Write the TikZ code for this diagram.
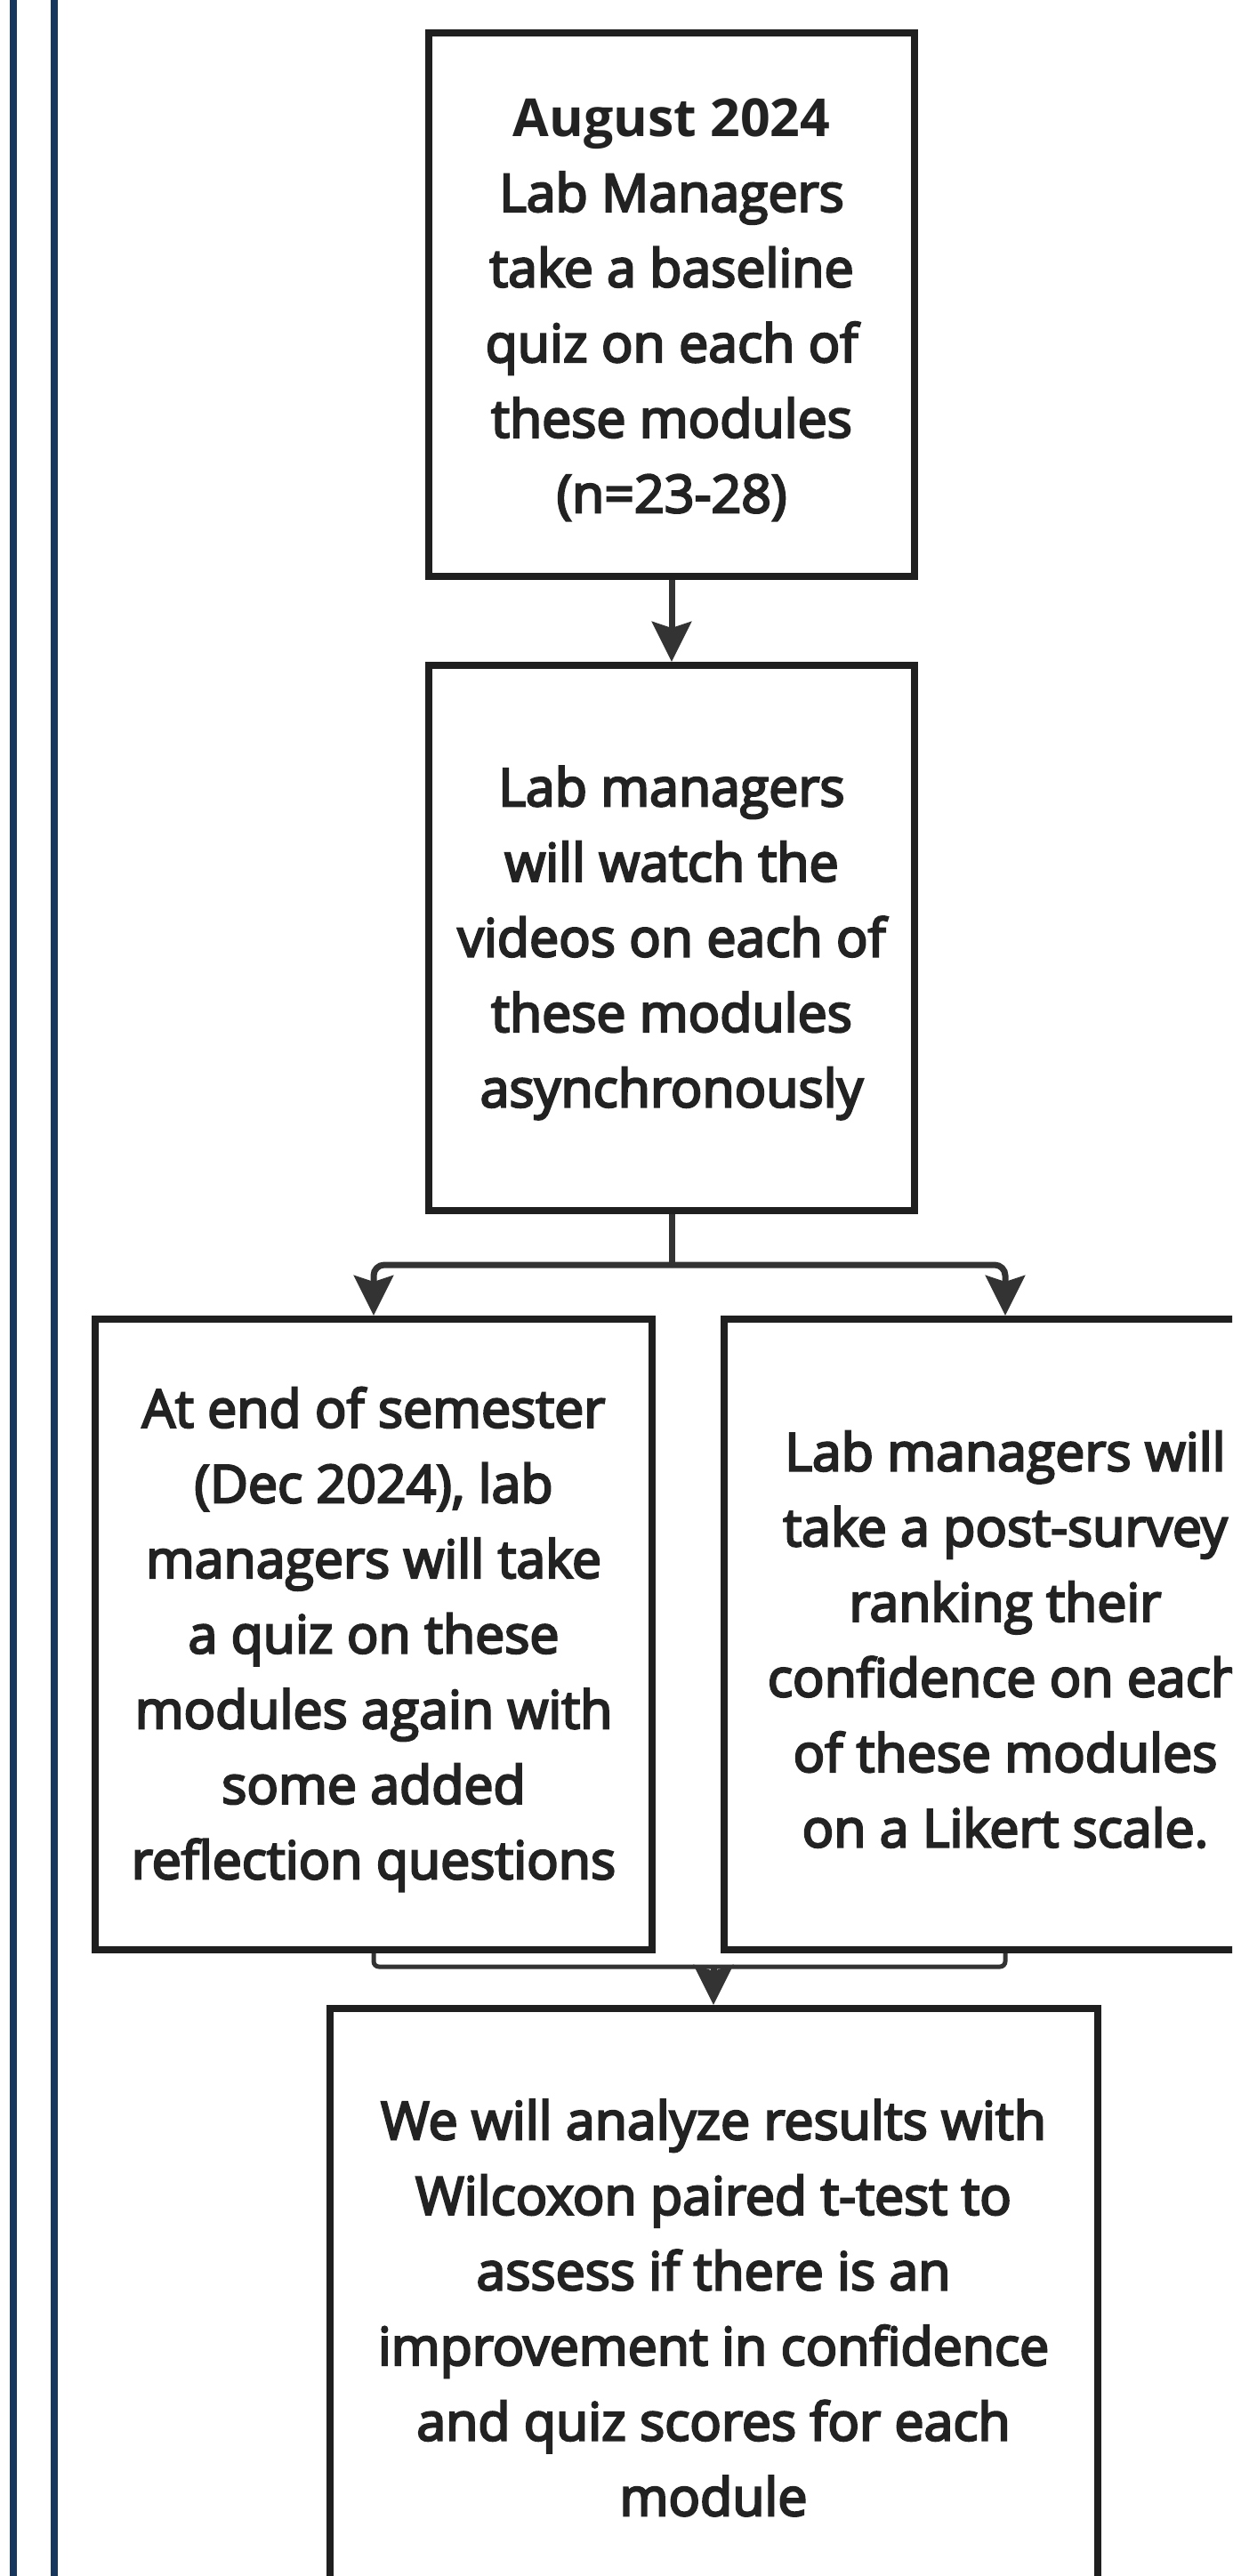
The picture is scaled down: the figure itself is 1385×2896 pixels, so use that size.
\documentclass[tikz,border=0pt]{standalone}
\usepackage{fontspec}
\setmainfont{Open Sans}[BoldFont={Open Sans Bold}]
\newfontfamily\sbfont{Open Sans}[FakeBold=4]
\usetikzlibrary{arrows.meta}
\definecolor{navy}{HTML}{17375E}
\definecolor{boxline}{HTML}{1F1F1F}
\definecolor{connline}{HTML}{333333}
\definecolor{txt}{HTML}{222222}
\tikzset{
  stepbox/.style={draw=boxline, line width=8pt, fill=white, inner sep=0pt},
  steptext/.style={align=center, text=txt, inner sep=0pt, yshift=-5.5pt,
    font=\sbfont\fontsize{59}{84.6}\selectfont},
  conn/.style={draw=connline, line width=7pt},
  brk/.style={draw=connline, line width=5pt},
  tip/.style={-{Stealth[length=45pt,width=44pt,inset=7pt]}},
  bluebar/.style={draw=navy, line width=8pt}
}
\begin{document}
\begin{tikzpicture}[x=1pt,y=-1pt]
\useasboundingbox (0,0) rectangle (1385,2896);
\clip (0,0) rectangle (1385,2896);
\draw[bluebar] (15,-10) -- (15,2906);
\draw[bluebar] (61,-10) -- (61,2906);

\node[stepbox, minimum width=546pt, minimum height=611pt] (b1) at (755,342.5) {};
\node[steptext] (t1) at (b1.center)
  {{\fontspec{Open Sans Bold}August 2024}\\Lab Managers\\take a baseline\\quiz on each of\\these modules\\(n=23-28)};
\node[stepbox, minimum width=546pt, minimum height=613pt] (b2) at (755,1054.5) {};
\node[steptext] (t2) at (b2.center)
  {Lab managers\\will watch the\\videos on each of\\these modules\\asynchronously};
\node[stepbox, minimum width=626pt, minimum height=709pt] (b3) at (420,1837.5) {};
\node[steptext] (t3) at (b3.center)
  {At end of semester\\(Dec 2024), lab\\managers will take\\a quiz on these\\modules again with\\some added\\reflection questions};
\node[stepbox, minimum width=632pt, minimum height=709pt] (b4) at (1130,1837.5) {};
\node[steptext] (t4) at (b4.center)
  {Lab managers will\\take a post-survey\\ranking their\\confidence on each\\of these modules\\on a Likert scale.};
\node[stepbox, minimum width=863pt, minimum height=662pt] (b5) at (802,2589) {};
\node[steptext] (t5) at (b5.center)
  {We will analyze results with\\Wilcoxon paired t-test to\\assess if there is an\\improvement in confidence\\and quiz scores for each\\module};

\draw[conn, tip] (b1.south) -- (b2.north);
\coordinate (j) at (755,1422);
\draw[conn] (b2.south) -- (j);
\draw[conn, rounded corners=12pt, tip] (j) -| (b3.north);
\draw[conn, rounded corners=12pt, tip] (j) -| (b4.north);
\coordinate (k) at (802,2211);
\draw[brk, rounded corners=6pt] (b3.south) |- (k) -| (b4.south);
\draw[conn, tip] (k) -- (b5.north);
\end{tikzpicture}
\end{document}
